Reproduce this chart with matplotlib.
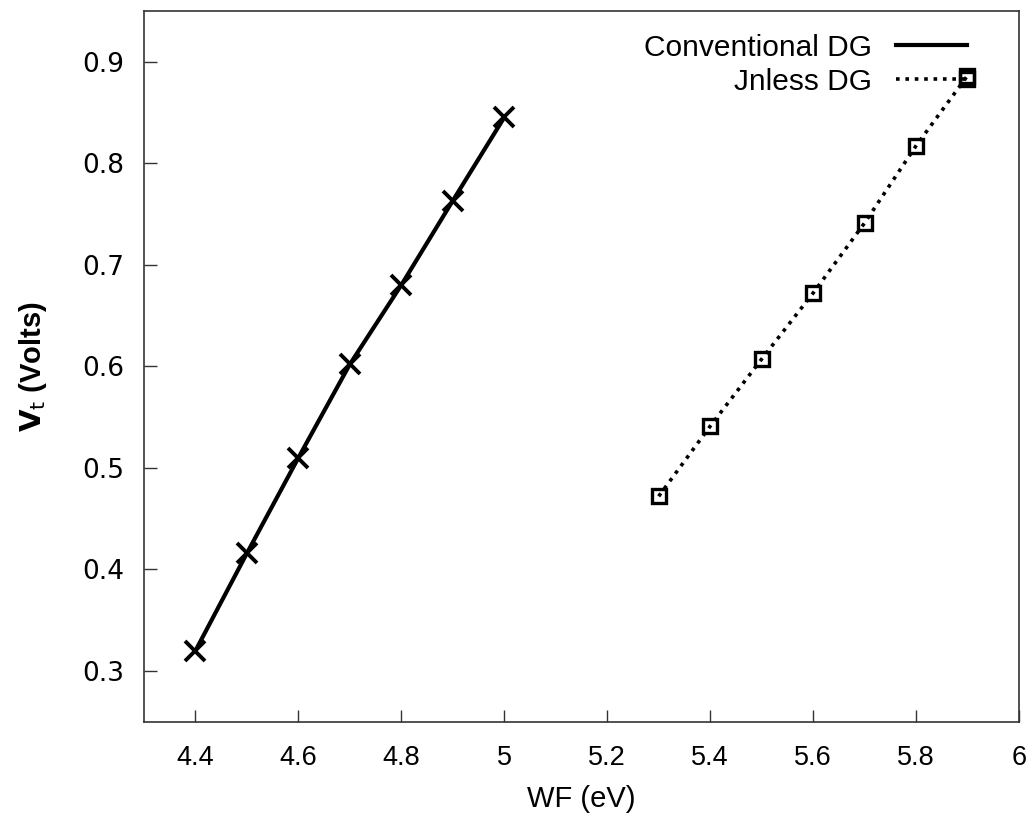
import matplotlib.pyplot as plt
from matplotlib.lines import Line2D
from matplotlib.legend_handler import HandlerLine2D

# Data
wf_conv = [4.4, 4.5, 4.6, 4.7, 4.8, 4.9, 5.0]
vt_conv = [0.320, 0.416, 0.510, 0.602, 0.680, 0.763, 0.845]

wf_jnless = [5.3, 5.4, 5.5, 5.6, 5.7, 5.8, 5.9]
vt_jnless = [0.472, 0.541, 0.607, 0.672, 0.741, 0.817, 0.886]

x_ticks = [4.4, 4.6, 4.8, 5.0, 5.2, 5.4, 5.6, 5.8, 6.0]
x_tick_labels = ['4.4', '4.6', '4.8', '5', '5.2', '5.4', '5.6', '5.8', '6']
y_ticks = [0.3, 0.4, 0.5, 0.6, 0.7, 0.8, 0.9]

plt.rcParams['font.family'] = ['Liberation Sans', 'DejaVu Sans']

dots = (0, (1, 1.6))


class RightMarkerHandler(HandlerLine2D):
    # key sample with the marker only at its right end
    def create_artists(self, legend, orig_handle, xdescent, ydescent,
                       width, height, fontsize, trans):
        arts = super().create_artists(legend, orig_handle, xdescent, ydescent,
                                      width, height, fontsize, trans)
        for a in arts:
            if a.get_marker() not in (None, 'None', ''):
                a.set_markevery([len(a.get_xdata()) - 1])
        return arts


fig = plt.figure(figsize=(10.33, 8.24), dpi=100)
ax = fig.add_axes([0.1394, 0.124, 0.847, 0.863])

ax.plot(wf_conv, vt_conv, color='black', linewidth=3.0, linestyle='-',
        marker='x', markersize=14, markeredgewidth=2.8)
ax.plot(wf_jnless, vt_jnless, color='black', linewidth=2.6, linestyle=dots,
        marker='s', markersize=10, markerfacecolor='none', markeredgewidth=2.4)

ax.set_xlim(4.3, 6.0)
ax.set_ylim(0.25, 0.95)
ax.set_xticks(x_ticks)
ax.set_xticklabels(x_tick_labels)
ax.set_yticks(y_ticks)
ax.tick_params(direction='in', length=9, width=1.0, color='#333333',
               top=False, right=False)
ax.tick_params(axis='x', labelsize=19.5, pad=17)
ax.tick_params(axis='y', labelsize=19, pad=14)
for lbl in ax.get_yticklabels():
    lbl.set_family('DejaVu Sans')
for s in ax.spines.values():
    s.set_linewidth(1.2)
    s.set_color('#333333')

ax.set_xlabel('WF (eV)', fontsize=21, labelpad=10)
ax.set_ylabel(r'$\mathbf{V}_\mathrm{t}$' + ' (Volts)', fontsize=21, fontweight='bold', labelpad=24)

# legend: text first, sample on the right
h_conv = Line2D([], [], color='black', linewidth=3.0, linestyle='-')
h_jn = Line2D([], [], color='black', linewidth=2.6, linestyle=dots,
              marker='s', markersize=10, markerfacecolor='none', markeredgewidth=2.4)
leg = ax.legend([h_conv, h_jn], ['Conventional DG', 'Jnless DG'],
                loc='upper right', frameon=False, markerfirst=False,
                fontsize=21.5, handlelength=3.0, numpoints=2,
                labelspacing=0.2, handletextpad=0.5,
                borderaxespad=0.3, bbox_to_anchor=(0.975, 0.997),
                handler_map={h_jn: RightMarkerHandler()})
for t in leg.get_texts():
    t.set_ha('right')

fig.savefig('out.png', dpi=100)
